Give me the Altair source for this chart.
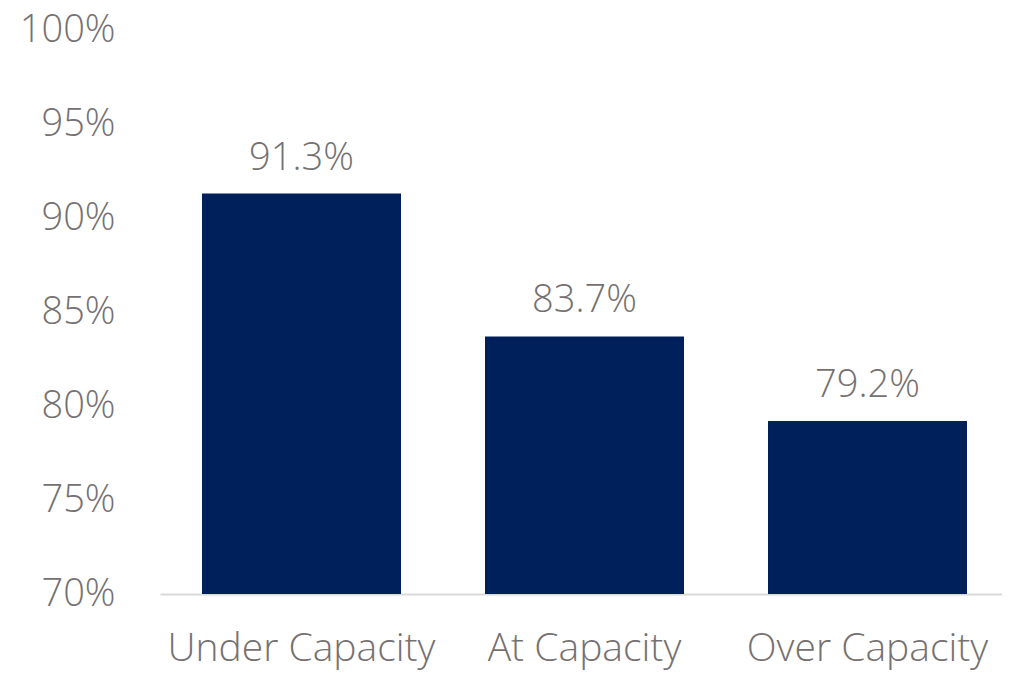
import altair as alt
import pandas as pd

categories = ["Under Capacity", "At Capacity", "Over Capacity"]
values = [0.913, 0.837, 0.792]
y_ticks = [0.70, 0.75, 0.80, 0.85, 0.90, 0.95, 1.00]

df = pd.DataFrame({"category": categories, "value": values})

FONT = "Open Sans"
GRAY = "#767171"
NAVY = "#00205B"

base = alt.Chart(df)

bars = base.mark_bar(color=NAVY, size=199).encode(
    x=alt.X("category:N", sort=categories, title=None,
            scale=alt.Scale(paddingInner=0, paddingOuter=0, range=[0, 849]),
            axis=alt.Axis(labelAngle=0, labelFontSize=39, labelColor=GRAY, labelFont=FONT,
                          labelFontWeight=300, ticks=False, labelPadding=66, labelLimit=0,
                          labelBaseline="alphabetic",
                          domainColor="#D9D9D9", domainWidth=2, grid=False)),
    y=alt.Y("value:Q", title=None,
            scale=alt.Scale(domain=[0.70, 1.00], zero=False, nice=False),
            axis=alt.Axis(format=".0%", values=y_ticks,
                          labelFontSize=38, labelColor=GRAY, labelFont=FONT, labelFontWeight=300,
                          ticks=False, domain=False, grid=False, labelPadding=45)),
    y2=alt.datum(0.70),
)

labels = base.mark_text(font=FONT, fontSize=38, fontWeight=300, color=GRAY,
                        baseline="alphabetic", dy=-24).encode(
    x=alt.X("category:N", sort=categories),
    y=alt.Y("value:Q"),
    text=alt.Text("value:Q", format=".1%"),
)

chart = (bars + labels).properties(
    width=842, height=564,
    autosize=alt.AutoSizeParams(type="none"),
    padding={"left": 152, "top": 22, "right": 0, "bottom": 76},
).configure_view(stroke=None)

chart.save("out.html", embed_options={"renderer": "svg", "actions": False})
